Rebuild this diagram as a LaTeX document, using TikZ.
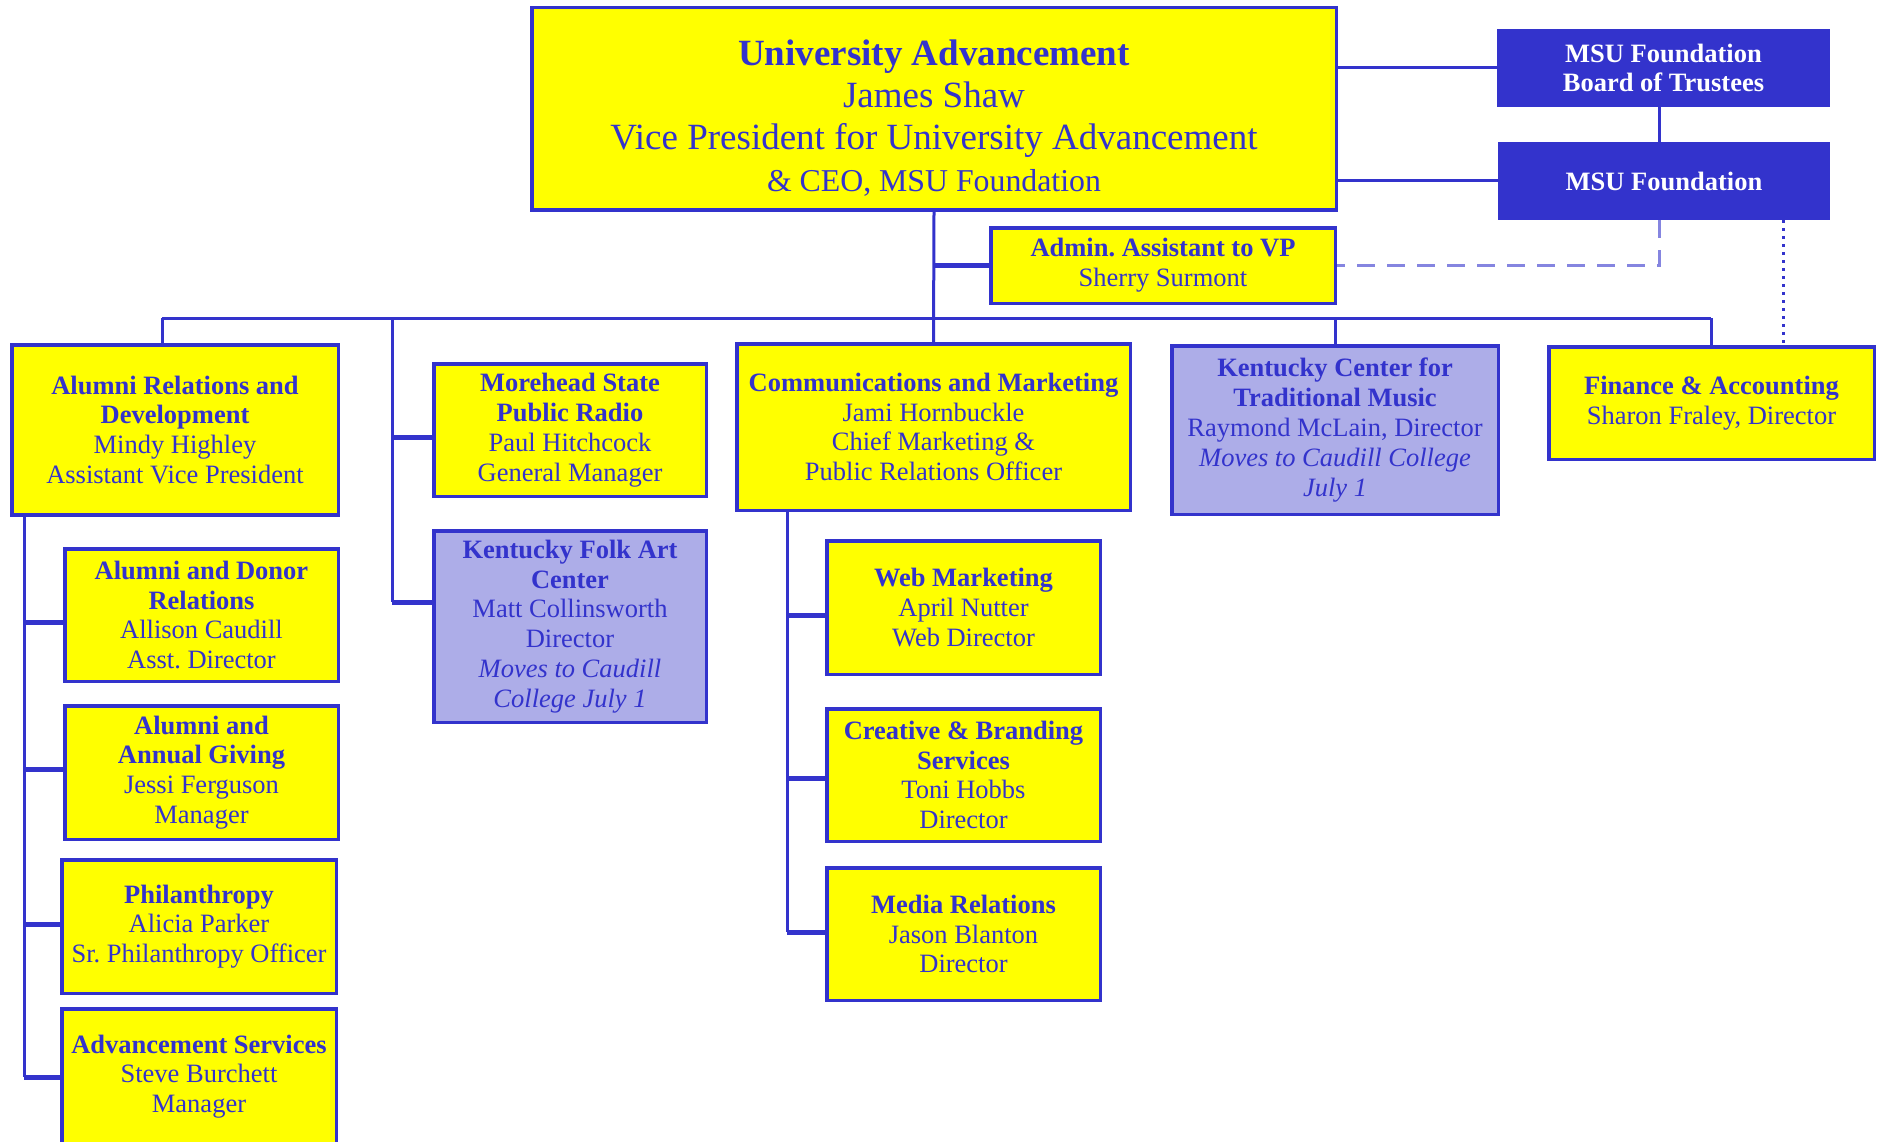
\documentclass[tikz,border=0pt]{standalone}
\usepackage{fontspec}
\setmainfont{Liberation Serif}
\frenchspacing
\definecolor{ublue}{HTML}{3333CC}
\definecolor{uyellow}{HTML}{FFFF00}
\definecolor{ulav}{HTML}{ADADE8}
\definecolor{udash}{HTML}{8585E0}
\newcommand\fsbox{\fontsize{26.5}{29.8}\selectfont}
\newcommand\fstop{\fontsize{37}{42}\selectfont}
\tikzset{
  orgbox/.style={draw=ublue, line width=3.5pt, fill=uyellow, text=ublue, align=center,
    inner sep=0pt, rectangle, font=\fsbox},
  lavbox/.style={orgbox, fill=ulav},
  fndbox/.style={fill=ublue, draw=none, text=white, align=center, inner sep=0pt,
    rectangle, font=\fsbox\bfseries},
  conn/.style={draw=ublue, line width=3pt},
  stub/.style={draw=ublue, line width=5pt},
  dashc/.style={draw=udash, line width=3pt, dash pattern=on 18pt off 12pt},
  dotc/.style={draw=ublue, line width=3pt, dash pattern=on 3pt off 5pt},
}
\begin{document}
\begin{tikzpicture}[x=1pt, y=-1pt]
\useasboundingbox (0,0) rectangle (1881,1142);
\fill[white] (0,0) rectangle (1881,1142);

\coordinate (busL) at (162,318);
\coordinate (busR) at (1711,318);
\coordinate (rad) at (392,318);
\coordinate (kct) at (1335,318);
\coordinate (aS) at (24,516);
\coordinate (cS) at (787,512);
\coordinate (dtop) at (1783,220);
\coordinate (dsh) at (1659,220);

% boxes
\node[orgbox, font=\fstop, minimum width=804.5pt, minimum height=202.5pt] (top) at (934,109)
  {\rule{0pt}{44pt}\textbf{University Advancement}\\
   James Shaw\\
   Vice President for University Advancement\\
   {\fontsize{31.8}{42}\selectfont \& CEO, MSU Foundation}};
\node[fndbox, minimum width=333pt, minimum height=78pt] (board) at (1663.5,68)
  {MSU Foundation\\Board of Trustees};
\node[fndbox, minimum width=332pt, minimum height=78pt] (found) at (1664,181)
  {MSU Foundation};
\node[orgbox, minimum width=344.5pt, minimum height=75.5pt] (admin) at (1163,265.5)
  {\textbf{Admin. Assistant to VP}\\Sherry Surmont};
\node[orgbox, minimum width=326.5pt, minimum height=170pt] (ard) at (175,429.75)
  {\textbf{Alumni Relations and}\\\textbf{Development}\\Mindy Highley\\Assistant Vice President};
\node[orgbox, minimum width=272.5pt, minimum height=132.5pt] (radio) at (570,430)
  {\textbf{Morehead State}\\\textbf{Public Radio}\\Paul Hitchcock\\General Manager};
\node[lavbox, minimum width=272.5pt, minimum height=191.5pt] (folk) at (570,626.5)
  {\textbf{Kentucky Folk Art}\\\textbf{Center}\\Matt Collinsworth\\Director\\\textit{Moves to Caudill}\\\textit{College July 1}};
\node[orgbox, minimum width=393.5pt, minimum height=166.5pt] (comm) at (933.5,427)
  {\textbf{Communications and Marketing}\\Jami Hornbuckle\\Chief Marketing \&\\Public Relations Officer};
\node[lavbox, minimum width=326.5pt, minimum height=168.5pt] (kctm) at (1335,430)
  {\textbf{Kentucky Center for}\\\textbf{Traditional Music}\\Raymond McLain, Director\\\textit{Moves to Caudill College}\\\textit{July 1}};
\node[orgbox, minimum width=325.5pt, minimum height=112.5pt] (fin) at (1711.5,403)
  {\textbf{Finance \& Accounting}\\Sharon Fraley, Director};
\node[orgbox, minimum width=273.5pt, minimum height=132.5pt] (adr) at (201.5,615)
  {\textbf{Alumni and Donor}\\\textbf{Relations}\\Allison Caudill\\Asst. Director};
\node[orgbox, minimum width=273.5pt, minimum height=133.5pt] (aag) at (201.5,772.5)
  {\textbf{Alumni and}\\\textbf{Annual Giving}\\Jessi Ferguson\\Manager};
\node[orgbox, minimum width=274.5pt, minimum height=133.5pt] (phil) at (199,926.5)
  {\textbf{Philanthropy}\\Alicia Parker\\Sr. Philanthropy Officer};
\node[orgbox, minimum width=274.5pt, minimum height=135.5pt] (adv) at (199,1076.5)
  {\textbf{Advancement Services}\\Steve Burchett\\Manager};
\node[orgbox, minimum width=273.5pt, minimum height=133.5pt] (web) at (963.5,607.5)
  {\textbf{Web Marketing}\\April Nutter\\Web Director};
\node[orgbox, minimum width=273.5pt, minimum height=132.5pt] (crea) at (963.5,775)
  {\textbf{Creative \& Branding}\\\textbf{Services}\\Toni Hobbs\\Director};
\node[orgbox, minimum width=273.5pt, minimum height=132.5pt] (media) at (963.5,934)
  {\textbf{Media Relations}\\Jason Blanton\\Director};

% top connections
\draw[conn] (top.east |- board) -- (board.west);
\draw[conn] (top.east |- found) -- (found.west);
\draw[conn] (board.south -| dsh) -- (found.north -| dsh);
\draw[conn] (top.south) -- (comm.north);
\draw[stub] (top.south |- admin) -- (admin.west);
\draw[dashc] (dsh) -- (dsh |- admin.east) -- (admin.east);
\draw[dotc] (dtop) -- (dtop |- fin.north);

% bus
\draw[conn] (busL) -- (busR);
\draw[conn] (busL) -- (busL |- ard.north);
\draw[conn] (kct) -- (kctm.north);
\draw[conn] (busR) -- (busR |- fin.north);

% radio / folk spine
\draw[conn] (rad) -- (392,602);
\draw[stub] (392,437) -- (radio.west |- 392,437);
\draw[stub] (392,602) -- (folk.west |- 392,602);

% alumni spine
\draw[conn] (aS) -- (24,1077);
\draw[stub] (24,622) -- (adr.west |- 24,622);
\draw[stub] (24,769) -- (aag.west |- 24,769);
\draw[stub] (24,924) -- (phil.west |- 24,924);
\draw[stub] (24,1077) -- (adv.west |- 24,1077);

% communications spine
\draw[conn] (cS) -- (787,932);
\draw[stub] (787,615) -- (web.west |- 787,615);
\draw[stub] (787,778) -- (crea.west |- 787,778);
\draw[stub] (787,932) -- (media.west |- 787,932);
\end{tikzpicture}
\end{document}
